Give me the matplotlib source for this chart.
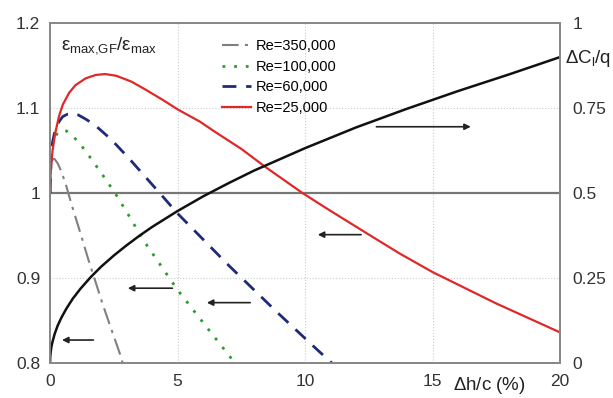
import numpy as np
import matplotlib
matplotlib.use("Agg")
import matplotlib.pyplot as plt

plt.rcParams['font.family'] = ['Liberation Sans', 'DejaVu Sans']
plt.rcParams['mathtext.default'] = 'regular'

# Re = 350,000 (dash-dot, grey)
x_350k = [0, 0.02, 0.05, 0.1, 0.18, 0.3, 0.45, 0.65, 0.85, 1.2, 1.5, 2.1, 2.75, 2.85]
y_350k = [1.0, 1.02, 1.033, 1.04, 1.04, 1.035, 1.025, 1.007, 0.986, 0.952, 0.922, 0.866, 0.81, 0.8]

# Re = 100,000 (dotted, green)
x_100k = [0, 0.02, 0.05, 0.1, 0.2, 0.3, 0.45, 0.65, 0.9, 1.2, 1.5, 2.0, 2.55, 3.1, 3.65, 5.0, 6.2, 7.25]
y_100k = [1.0, 1.025, 1.042, 1.056, 1.066, 1.071, 1.074, 1.073, 1.067, 1.057, 1.045, 1.024, 1.0, 0.973, 0.945, 0.886, 0.84, 0.8]

# Re = 60,000 (dashed, navy)
x_60k = [0, 0.02, 0.05, 0.1, 0.2, 0.35, 0.5, 0.7, 0.85, 1.1, 1.4, 1.76, 2.4, 3.06, 4.3, 5.0, 7.0, 9.0, 10.5, 11.05]
y_60k = [1.0, 1.025, 1.045, 1.06, 1.074, 1.084, 1.09, 1.093, 1.094, 1.092, 1.087, 1.08, 1.063, 1.042, 1.0, 0.976, 0.915, 0.857, 0.815, 0.8]

# Re = 25,000 (solid, red)
x_25k = [0, 0.02, 0.05, 0.1, 0.2, 0.35, 0.5, 0.75, 1.0, 1.4, 1.8, 2.16, 2.6, 3.2, 3.73, 4.4, 5.03, 5.88,
         6.47, 7.5, 8.43, 9.9, 11.0, 12.4, 13.7, 15.0, 17.5, 20.0]
y_25k = [1.0, 1.02, 1.035, 1.05, 1.07, 1.09, 1.104, 1.118, 1.127, 1.135, 1.139, 1.14, 1.138, 1.131, 1.122, 1.11, 1.098, 1.084,
         1.072, 1.052, 1.031, 1.0, 0.979, 0.953, 0.929, 0.907, 0.87, 0.836]

# delta Cl / q on the right axis
x_dcl = [0, 0.01, 0.03, 0.06, 0.1, 0.18, 0.3, 0.45, 0.65, 0.9, 1.2, 1.6, 2.0, 2.5, 3.0, 3.5, 4.0,
         5.0, 6.0, 7.0, 8.0, 10.0, 12.0, 14.0, 16.0, 18.0, 20.0]
y_dcl = [0, 0.02, 0.035, 0.05, 0.063, 0.085, 0.11, 0.134, 0.161, 0.19, 0.219, 0.253, 0.283, 0.316, 0.346, 0.374, 0.4,
         0.447, 0.49, 0.529, 0.566, 0.632, 0.693, 0.748, 0.8, 0.849, 0.9]

labels = ['Re=350,000', 'Re=100,000', 'Re=60,000', 'Re=25,000']

# arrows: (x_start, x_end, y) in left-axis units
arrows = [(12.8, 16.5, 1.078), (12.2, 10.5, 0.951), (4.8, 3.05, 0.888),
          (7.85, 6.15, 0.871), (1.7, 0.47, 0.827)]

fig = plt.figure(figsize=(6.13, 3.98), dpi=100)
ax = fig.add_axes([0.0816, 0.088, 0.832, 0.854])
ax2 = ax.twinx()

ax.set_xlim(0, 20)
ax.set_ylim(0.8, 1.2)
ax2.set_ylim(0, 1)

for a in (ax, ax2):
    for s in a.spines.values():
        s.set_color('#888888')
        s.set_linewidth(1.3)

# grid
for gx in [5, 10, 15]:
    ax.axvline(gx, color='#cccccc', lw=0.8, ls=':', zorder=0)
for gy in [0.9, 1.1]:
    ax.axhline(gy, color='#cccccc', lw=0.8, ls=':', zorder=0)
ax.axhline(1.0, color='#777777', lw=1.6, zorder=1.5)

ax.plot(x_350k, y_350k, color='#808080', lw=1.5, ls=(0, (8, 3, 1.5, 3)), label=labels[0], zorder=3)
ax.plot(x_100k, y_100k, color='#2e9a2e', lw=2.0, ls=(0, (1, 3.2)), label=labels[1], zorder=3)
ax.plot(x_60k, y_60k, color='#1f2a78', lw=2.0, ls=(0, (5, 3.5)), label=labels[2], zorder=3)
ax.plot(x_25k, y_25k, color='#e02828', lw=1.6, label=labels[3], zorder=3)

ax2.plot(x_dcl, y_dcl, color='#111111', lw=1.8)

for xs, xe, yy in arrows:
    ax.annotate('', xy=(xe, yy), xytext=(xs, yy),
                arrowprops=dict(arrowstyle='-|>', color='#222222', lw=1.2,
                                mutation_scale=9, shrinkA=0, shrinkB=0))

ax.set_xticks([0, 5, 10, 15, 20])
ax.set_xticklabels(['0', '5', '10', '15', '20'])
ax.set_yticks([0.8, 0.9, 1.0, 1.1, 1.2])
ax.set_yticklabels(['0.8', '0.9', '1', '1.1', '1.2'])
ax2.set_yticks([0, 0.25, 0.5, 0.75, 1])
ax2.set_yticklabels(['0', '0.25', '0.5', '0.75', '1'])
ax.tick_params(axis='x', length=0, labelsize=12.5, colors='#333333', pad=8)
ax.tick_params(axis='y', length=0, labelsize=12.5, colors='#333333', pad=7)
ax2.tick_params(axis='y', length=0, labelsize=12.5, colors='#333333', pad=9)

ax.text(0.022, 0.935, r'$\varepsilon_{max{,}GF}/\varepsilon_{max}$', transform=ax.transAxes,
        fontsize=13.5, color='#222222', va='center', ha='left')
ax.text(15.8, 0.7735, r'$\Delta$h/c (%)', fontsize=13.5, color='#222222', ha='left', va='center')
fig.text(0.921, 0.852, r'$\Delta C_l/q$', fontsize=13.5, color='#222222', ha='left', va='center')

ax.legend(loc='upper left', bbox_to_anchor=(0.325, 0.97), frameon=False, fontsize=10.5,
          handlelength=2.0, handletextpad=0.35, labelspacing=0.45, borderaxespad=0)

fig.savefig('out.png', dpi=100)
